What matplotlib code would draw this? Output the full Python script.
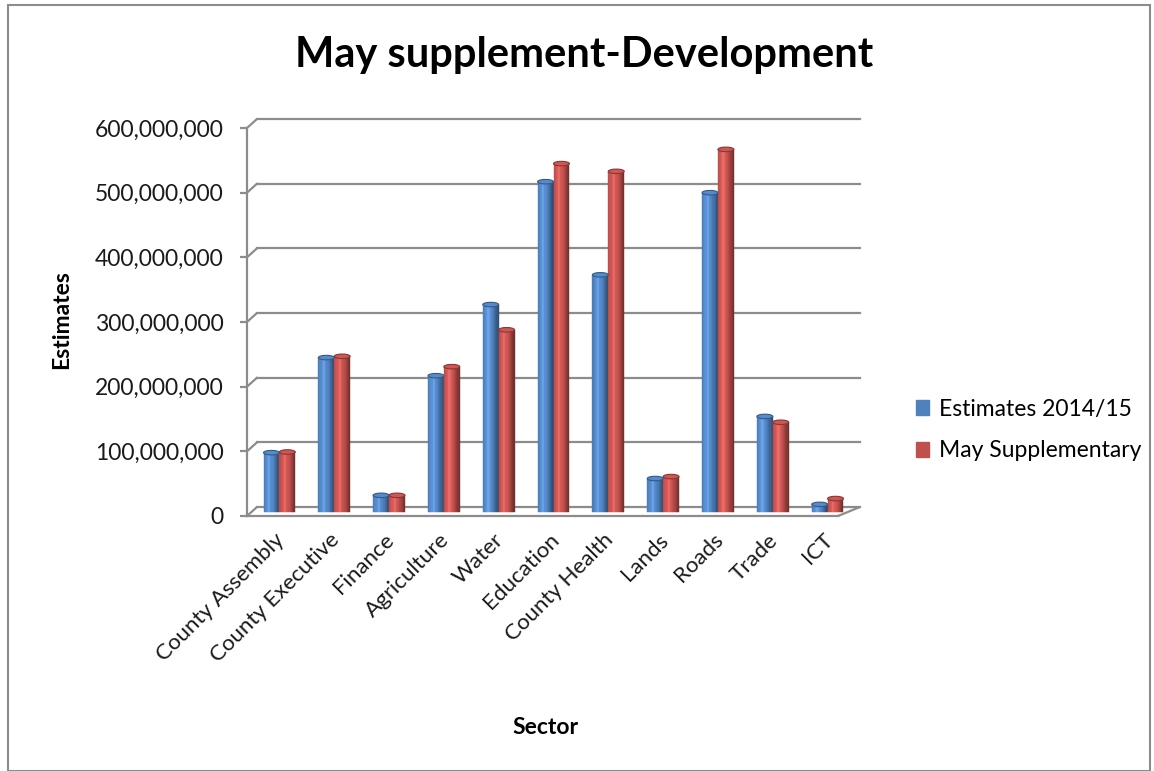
import numpy as np
import matplotlib
matplotlib.use("Agg")
import matplotlib.pyplot as plt
import matplotlib.colors as mcolors
from matplotlib.patches import Rectangle, Ellipse, Patch
from matplotlib.transforms import ScaledTranslation
from matplotlib.ticker import FuncFormatter

plt.rcParams['font.family'] = ['Lato', 'DejaVu Sans']

sectors = ["County Assembly", "County Executive", "Finance", "Agriculture", "Water",
           "Education", "County Health", "Lands", "Roads", "Trade", "ICT"]
estimates = [91e6, 238e6, 25e6, 210e6, 320e6, 510e6, 366e6, 51e6, 493e6, 147e6, 11e6]
may_supp = [92e6, 240e6, 25e6, 224e6, 281e6, 538e6, 526e6, 54e6, 560e6, 138e6, 20e6]
series_names = ["Estimates 2014/15", "May Supplementary"]
series_colors = ["#4F81BD", "#C0504D"]
yticks = np.arange(0, 600e6 + 1, 100e6)

W, H = 1154, 771
fig = plt.figure(figsize=(W / 100, H / 100), dpi=100)
fig.patches.append(Rectangle((8 / W, 0), 1142 / W, 1 - 5 / H, transform=fig.transFigure,
                             fill=False, edgecolor="#8c8c8c", lw=1.5))

ax = fig.add_axes([247 / W, (H - 516) / H, 603 / W, 388 / H])
ax.set_xlim(-0.5, len(sectors) - 0.5)
ax.set_ylim(0, 600e6)

grid_c = "#8c8c8c"
# depth offsets: back wall and the mid plane where the columns stand
back = ax.transData + ScaledTranslation(10 * 0.72 / 72, 9 * 0.72 / 72, fig.dpi_scale_trans)
mid = ax.transData + ScaledTranslation(5 * 0.72 / 72, 4.5 * 0.72 / 72, fig.dpi_scale_trans)
x0, x1 = -0.5, len(sectors) - 0.5

for v in yticks:
    ax.plot([x0, x1], [v, v], transform=back, color=grid_c, lw=1.6, clip_on=False, zorder=1)
    # short diagonal from the front axis to the back wall
    ax.annotate("", xy=(x0, v), xycoords=back, xytext=(x0, v), textcoords=ax.transData,
                arrowprops=dict(arrowstyle="-", color=grid_c, lw=1.6, shrinkA=0, shrinkB=0))
# floor front edge and right diagonal
ax.plot([x0, x1 - 0.22], [0, 0], color=grid_c, lw=1.6, clip_on=False, zorder=1)
ax.annotate("", xy=(x1, 0), xycoords=back, xytext=(x1 - 0.22, 0), textcoords=ax.transData,
            arrowprops=dict(arrowstyle="-", color=grid_c, lw=1.6, shrinkA=0, shrinkB=0))


def cylinder(xc, h, w, color, nstrips=14):
    base = np.array(mcolors.to_rgb(color))
    edges = np.linspace(xc - w / 2, xc + w / 2, nstrips + 1)
    for k in range(nstrips):
        t = (k + 0.5) / nstrips
        f = 0.72 + 0.42 * np.cos(np.pi * (t - 0.35) * 0.95)
        c = np.clip(base * f + (0.06 if 0.25 < t < 0.45 else 0), 0, 1)
        ax.add_patch(Rectangle((edges[k], 0), edges[k + 1] - edges[k], h, transform=mid,
                               facecolor=c, edgecolor=c, lw=0.3, zorder=3, clip_on=False))
    cap_h = 7e6
    ax.add_patch(Ellipse((xc, h), w, cap_h, transform=mid, facecolor=np.clip(base * 1.08, 0, 1),
                         edgecolor=np.clip(base * 0.7, 0, 1), lw=0.8, zorder=4, clip_on=False))


bw = 0.29
for i in range(len(sectors)):
    cylinder(i - bw / 2, estimates[i], bw, series_colors[0])
    cylinder(i + bw / 2, may_supp[i], bw, series_colors[1])

for side in ["top", "right", "bottom"]:
    ax.spines[side].set_visible(False)
ax.spines["left"].set_color(grid_c)
ax.spines["left"].set_linewidth(1.6)

ax.set_yticks(yticks)
ax.yaxis.set_major_formatter(FuncFormatter(lambda v, p: f"{int(v):,}"))
ax.tick_params(axis="y", colors=grid_c, length=5, width=1.6, labelsize=16.5, labelcolor="#1a1a1a", pad=12)
ax.set_xticks(range(len(sectors)))
ax.set_xticklabels(sectors, rotation=45, ha="right", rotation_mode="anchor", fontsize=16, color="#1a1a1a")
ax.tick_params(axis="x", length=0, pad=10)

fig.text(584 / W, 1 - 55 / H, "May supplement-Development", ha="center", va="center",
         fontsize=30, fontweight="bold", color="black")
fig.text(545 / W, 1 - 727 / H, "Sector", ha="center", va="center", fontsize=16.5, fontweight="bold")
fig.text(62 / W, 1 - 320 / H, "Estimates", ha="center", va="center", fontsize=16.5,
         fontweight="bold", rotation=90)

handles = [Patch(facecolor=c, edgecolor=c) for c in series_colors]
fig.legend(handles, series_names, loc="center left", bbox_to_anchor=(895 / W, 1 - 430 / H),
           frameon=False, fontsize=16.5, handlelength=0.6, handleheight=0.6, handletextpad=0.4,
           labelspacing=0.9)

fig.savefig("out.png", dpi=100)
